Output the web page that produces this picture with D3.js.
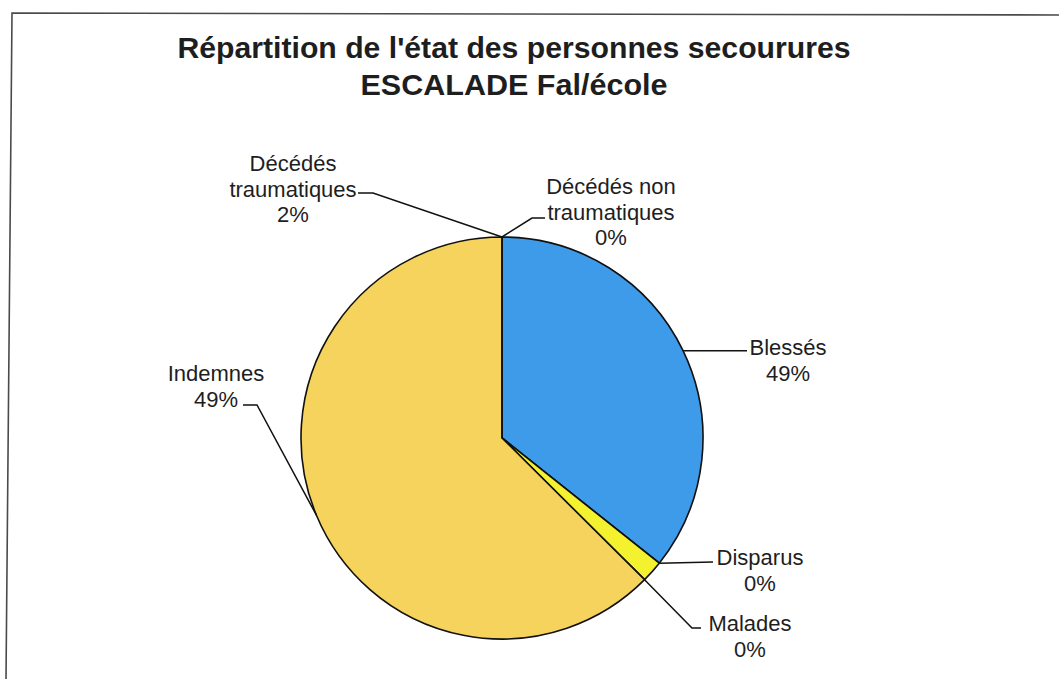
<!DOCTYPE html>
<html lang="fr">
<head>
    <meta charset="UTF-8">
    <title>Répartition de l'état des personnes secourures</title>
    <script src="https://d3js.org/d3.v7.min.js"></script>
    <style>
        body { margin: 0; background: #fff; }
        svg { display: block; }
        text { font-family: "Liberation Sans", Arial, sans-serif; fill: #1e1e1e; }
        .title { font-size: 30px; font-weight: bold; }
        .lbl { font-size: 22px; }
    </style>
</head>
<body>
<svg id="chart" width="1059" height="679"></svg>
<script>
    // données (parts telles que dessinées) et étiquettes affichées
    const categories = ["Décédés non traumatiques", "Blessés", "Disparus", "Malades", "Indemnes", "Décédés traumatiques"];
    const sliceValues = [0, 35.7, 0, 1.75, 62.55, 0];
    const pctLabels = ["0%", "49%", "0%", "0%", "49%", "2%"];
    const titleLines = ["Répartition de l'état des personnes secourures", "ESCALADE Fal/école"];

    const colors = {
        "Décédés non traumatiques": "#3d9be9",
        "Blessés": "#3d9be9",
        "Disparus": "#f4f22e",
        "Malades": "#f4f22e",
        "Indemnes": "#f6d35c",
        "Décédés traumatiques": "#f6d35c"
    };

    // placement des étiquettes (lignes de texte, 1re ligne de base, points de la ligne de rappel)
    const layout = {
        "Décédés non traumatiques": { lines: ["Décédés non", "traumatiques"], x: 611, y: 194, anchor: "mid", pts: [[532, 218], [545, 218]] },
        "Blessés": { lines: ["Blessés"], x: 788, y: 355, anchor: "mid", pts: [[747, null]] },
        "Disparus": { lines: ["Disparus"], x: 760, y: 565, anchor: "mid", pts: [[713, 562]] },
        "Malades": { lines: ["Malades"], x: 750, y: 631, anchor: "end", pts: [[692, 628], [701, 628]] },
        "Indemnes": { lines: ["Indemnes"], x: 216, y: 381, anchor: "mid", pts: [[257, 405], [243, 405]] },
        "Décédés traumatiques": { lines: ["Décédés", "traumatiques"], x: 293, y: 171, anchor: "mid", pts: [[373, 193], [358, 193]] }
    };

    const svg = d3.select("#chart");
    const cx = 502, cy = 438, r = 201;

    // cadre (scan un peu penché)
    svg.append("path")
        .attr("d", "M6,679 L12,13 L1059,15")
        .attr("fill", "none")
        .attr("stroke", "#4a4a4a")
        .attr("stroke-width", 1.6);

    // titre
    svg.selectAll("text.title")
        .data(titleLines)
        .join("text")
        .attr("class", "title")
        .attr("x", 514)
        .attr("y", (d, i) => 58 + i * 37)
        .attr("text-anchor", "middle")
        .attr("textLength", (d, i) => i === 0 ? 673 : 307)
        .attr("lengthAdjust", "spacingAndGlyphs")
        .text(d => d);

    const data = categories.map((c, i) => ({ name: c, value: sliceValues[i], pct: pctLabels[i] }));
    const pie = d3.pie().sort(null).value(d => d.value);
    const arcs = pie(data);
    const arc = d3.arc().innerRadius(0).outerRadius(r);

    const g = svg.append("g").attr("transform", `translate(${cx},${cy})`);

    g.selectAll("path")
        .data(arcs)
        .join("path")
        .attr("d", arc)
        .attr("fill", d => colors[d.data.name])
        .attr("stroke", "#111")
        .attr("stroke-width", 1.6)
        .attr("stroke-linejoin", "round");

    // lignes de rappel
    arcs.forEach(a => {
        const L = layout[a.data.name];
        const ang = L.anchor === "end" ? a.endAngle : L.anchor === "start" ? a.startAngle : (a.startAngle + a.endAngle) / 2;
        const ax = cx + r * Math.sin(ang);
        const ay = cy - r * Math.cos(ang);
        const pts = [[ax, ay]].concat(L.pts.map(p => [p[0], p[1] === null ? ay : p[1]]));
        svg.append("path")
            .attr("d", d3.line()(pts))
            .attr("fill", "none")
            .attr("stroke", "#111")
            .attr("stroke-width", 1.5);

        const t = svg.append("text")
            .attr("class", "lbl")
            .attr("text-anchor", "middle");
        L.lines.concat([a.data.pct]).forEach((s, i) => {
            t.append("tspan")
                .attr("x", L.x)
                .attr("y", L.y + i * 25.5)
                .text(s);
        });
    });
</script>
</body>
</html>
